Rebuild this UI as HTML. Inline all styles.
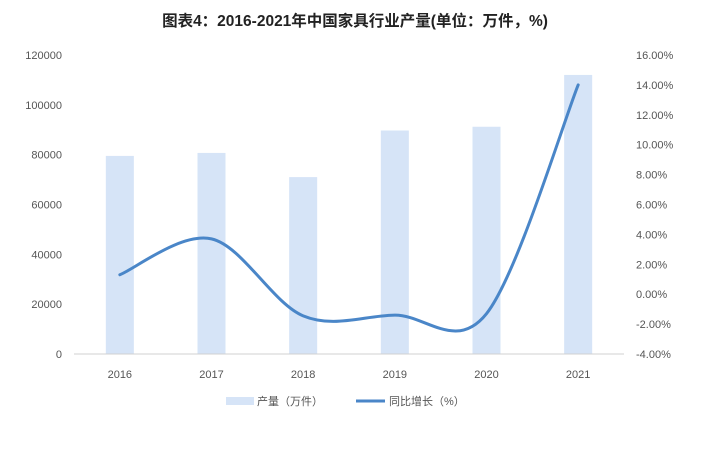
<!DOCTYPE html>
<html><head><meta charset="utf-8"><style>
body{margin:0;background:#fff;width:711px;height:457px;overflow:hidden}
svg text{font-family:"Liberation Sans","Noto Sans CJK SC",sans-serif}
</style></head><body>
<svg id="chart" width="711" height="457">
<text x="355" y="26" text-anchor="middle" font-size="15.5" font-weight="bold" fill="#222">图表4：2016-2021年中国家具行业产量(单位：万件，%)</text>
<g id="grid"></g><g id="bars"></g><g id="line"></g><g id="axes"></g>
<g>
<rect x="226" y="397" width="28" height="8" fill="#d6e4f7"/>
<text x="257" y="405" font-size="11" fill="#555">产量（万件）</text>
<line x1="356" y1="401" x2="385" y2="401" stroke="#4a86c8" stroke-width="3"/>
<text x="389" y="405" font-size="11" fill="#555">同比增长（%）</text>
</g>
</svg>
<script>
const categories=["2016","2017","2018","2019","2020","2021"];
const outputValues=[79500,80700,71000,89700,91200,112000];
const growthValues=[1.3,3.7,-1.45,-1.4,-1.3,14.0];
const leftTicks=[0,20000,40000,60000,80000,100000,120000];
const rightTicks=[-4,-2,0,2,4,6,8,10,12,14,16];
const NS="http://www.w3.org/2000/svg";
const plotTop=55,plotBot=354,x0=74,x1=624;
const yL=v=>plotBot-(v/120000)*(plotBot-plotTop);
const yR=v=>plotBot-((v+4)/20)*(plotBot-plotTop);
const step=(x1-x0)/categories.length;
const xC=i=>x0+step*(i+0.5);
function mk(t,a,p){const e=document.createElementNS(NS,t);for(const k in a)e.setAttribute(k,a[k]);p.appendChild(e);return e;}
const axes=document.getElementById('axes'),bars=document.getElementById('bars'),line=document.getElementById('line');
leftTicks.forEach(v=>{const t=mk('text',{x:62,y:yL(v)+4,'text-anchor':'end','font-size':11,fill:'#555'},axes);t.textContent=v;

});
rightTicks.forEach(v=>{const t=mk('text',{x:636,y:yR(v)+4,'font-size':11,fill:'#555'},axes);t.textContent=v.toFixed(2)+'%';

});
const ax=mk('line',{x1:x0,x2:x1,y1:plotBot,y2:plotBot,stroke:'#d0d0d0'},axes);


categories.forEach((c,i)=>{const t=mk('text',{x:xC(i),y:378,'text-anchor':'middle','font-size':11,fill:'#555'},axes);t.textContent=c;


const b=mk('rect',{x:xC(i)-14,y:yL(outputValues[i]),width:28,height:plotBot-yL(outputValues[i]),fill:'#d6e4f7'},bars);

});
const pts=growthValues.map((v,i)=>[xC(i),yR(v)]);
let d='M'+pts[0][0]+','+pts[0][1];
const tens=0.5/3*2;
for(let i=0;i<pts.length-1;i++){const p0=pts[i-1]||pts[i],p1=pts[i],p2=pts[i+1],p3=pts[i+2]||p2;
const c1=[p1[0]+(p2[0]-p0[0])*tens/2,p1[1]+(p2[1]-p0[1])*tens/2];
const c2=[p2[0]-(p3[0]-p1[0])*tens/2,p2[1]-(p3[1]-p1[1])*tens/2];
d+=` C${c1[0]},${c1[1]} ${c2[0]},${c2[1]} ${p2[0]},${p2[1]}`;}
const l=mk('path',{d:d,fill:'none',stroke:'#4a86c8','stroke-width':3,'stroke-linecap':'round'},line);


</script>
</body></html>
